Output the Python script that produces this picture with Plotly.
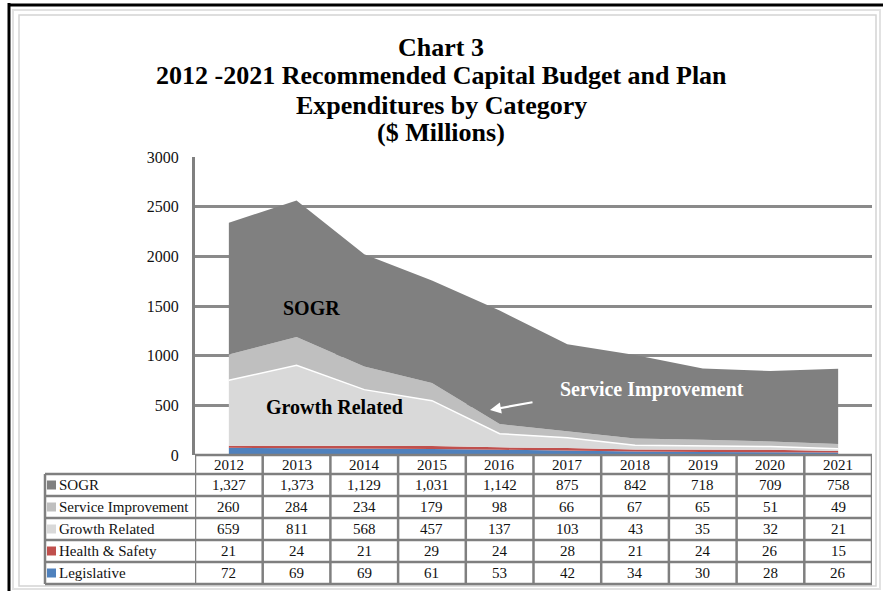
import plotly.graph_objects as go

# ---- data ($ millions) ----
years = [2012, 2013, 2014, 2015, 2016, 2017, 2018, 2019, 2020, 2021]
sogr = [1327, 1373, 1129, 1031, 1142, 875, 842, 718, 709, 758]
service_improvement = [260, 284, 234, 179, 98, 66, 67, 65, 51, 49]
growth_related = [659, 811, 568, 457, 137, 103, 43, 35, 32, 21]
health_safety = [21, 24, 21, 29, 24, 28, 21, 24, 26, 15]
legislative = [72, 69, 69, 61, 53, 42, 34, 30, 28, 26]

# table rows (top to bottom) and their colours
row_names = ["SOGR", "Service Improvement", "Growth Related", "Health & Safety", "Legislative"]
row_values = [sogr, service_improvement, growth_related, health_safety, legislative]
row_colors = ["#808080", "#BFBFBF", "#D9D9D9", "#C0504D", "#4F81BD"]

title_lines = [
    "Chart 3",
    "2012 -2021 Recommended Capital Budget and Plan",
    "Expenditures by Category",
    "($ Millions)",
]
y_ticks = [0, 500, 1000, 1500, 2000, 2500, 3000]

# ---- layout geometry (pixels) ----
W, H = 883, 591
PL, PR, PT, PB = 195, 872, 157, 455  # plot area edges
SERIF = "Liberation Serif, Times New Roman, serif"
GRID = "#8a8a8a"


def px(X):
    return (X - PL) / (PR - PL)


def py(Y):
    return (PB - Y) / (PB - PT)


fig = go.Figure()

# stacked areas, bottom to top
stack = list(zip(row_names, row_values, row_colors))[::-1]
for name, vals, col in stack:
    line = dict(width=0)
    if name == "Growth Related":
        line = dict(width=1.5, color="white")
    fig.add_trace(go.Scatter(
        x=years, y=vals, name=name, mode="lines", stackgroup="one",
        fillcolor=col, line=line, hoverinfo="x+y+name",
    ))

shapes = []
annotations = []

# page frame
shapes.append(dict(type="line", xref="paper", yref="paper", x0=px(9), x1=px(9), y0=py(3), y1=py(591),
                   line=dict(color="black", width=3)))
shapes.append(dict(type="line", xref="paper", yref="paper", x0=px(8), x1=px(883), y0=py(5), y1=py(5),
                   line=dict(color="black", width=3)))
shapes.append(dict(type="rect", xref="paper", yref="paper", x0=px(13), x1=px(880), y0=py(10), y1=py(589),
                   line=dict(color="#e2e2e2", width=2)))
shapes.append(dict(type="rect", xref="paper", yref="paper", x0=px(19), x1=px(876), y0=py(15), y1=py(586),
                   line=dict(color="#d4d4d4", width=1.5)))

# data table grid
TBL_L = 45
HDR_TOP = PB
row_tops = [474, 496, 518, 540, 562, 584]
tcol = dict(color="#7f7f7f", width=2.5)
shapes.append(dict(type="line", xref="paper", yref="paper", x0=px(PL), x1=px(PR), y0=py(HDR_TOP), y1=py(HDR_TOP), line=tcol))
for yy in row_tops:
    shapes.append(dict(type="line", xref="paper", yref="paper", x0=px(TBL_L), x1=px(PR), y0=py(yy), y1=py(yy), line=tcol))
shapes.append(dict(type="line", xref="paper", yref="paper", x0=px(TBL_L), x1=px(TBL_L), y0=py(row_tops[0]), y1=py(row_tops[-1]), line=tcol))
for i, yr in enumerate(years):
    for xv in ([yr - 0.5, yr + 0.5] if i == 0 else [yr + 0.5]):
        shapes.append(dict(type="line", xref="x", yref="paper", x0=xv, x1=xv, y0=py(HDR_TOP), y1=py(row_tops[-1]), line=tcol))

tfont = dict(family=SERIF, size=15, color="#111111")
# header years
for yr in years:
    annotations.append(dict(x=yr, xref="x", y=py((HDR_TOP + row_tops[0]) / 2), yref="paper",
                            text=str(yr), showarrow=False, font=tfont, xanchor="center", yanchor="middle"))
# rows
for r, (name, vals, col) in enumerate(zip(row_names, row_values, row_colors)):
    yc = (row_tops[r] + row_tops[r + 1]) / 2
    shapes.append(dict(type="rect", xref="paper", yref="paper", x0=px(47), x1=px(56), y0=py(yc - 4.5), y1=py(yc + 4.5),
                       fillcolor=col, line=dict(width=0)))
    annotations.append(dict(x=px(57), xref="paper", y=py(yc), yref="paper", text=name, showarrow=False,
                            font=tfont, xanchor="left", yanchor="middle"))
    for yr, v in zip(years, vals):
        annotations.append(dict(x=yr, xref="x", y=py(yc), yref="paper", text=f"{v:,}", showarrow=False,
                                font=tfont, xanchor="center", yanchor="middle"))

# title
for t, yc in zip(title_lines, [47, 76, 105, 132]):
    annotations.append(dict(x=px(441), xref="paper", y=py(yc), yref="paper", text=f"<b>{t}</b>", showarrow=False,
                            font=dict(family=SERIF, size=26, color="black"), xanchor="center", yanchor="middle"))

# in-chart labels
lbl = dict(family=SERIF, size=20, color="black")
annotations.append(dict(x=px(311), xref="paper", y=py(308), yref="paper", text="<b>SOGR</b>", showarrow=False,
                        font=lbl, xanchor="center", yanchor="middle"))
annotations.append(dict(x=px(334), xref="paper", y=py(407), yref="paper", text="<b>Growth Related</b>", showarrow=False,
                        font=lbl, xanchor="center", yanchor="middle"))
annotations.append(dict(x=px(652), xref="paper", y=py(389), yref="paper", text="<b>Service Improvement</b>",
                        showarrow=False, font=dict(family=SERIF, size=20, color="white"),
                        xanchor="center", yanchor="middle"))
annotations.append(dict(x=px(490), xref="paper", y=py(410), yref="paper", text="", showarrow=True,
                        ax=44, ay=-8, arrowhead=2, arrowsize=1, arrowwidth=2.2, arrowcolor="white"))

fig.update_layout(
    width=W, height=H,
    margin=dict(l=PL, r=W - PR, t=PT, b=H - PB, pad=0),
    paper_bgcolor="white", plot_bgcolor="white",
    showlegend=False,
    shapes=shapes, annotations=annotations,
    xaxis=dict(range=[2011.5, 2021.5], showticklabels=False, showgrid=False, zeroline=False,
               showline=False, ticks="", fixedrange=True),
    yaxis=dict(range=[0, 3000], tickvals=y_ticks, showgrid=True, gridcolor=GRID, gridwidth=2.5,
               zeroline=False, showline=True, linecolor="#808080", linewidth=3,
               ticks="", ticklabelstandoff=10, automargin=False,
               tickfont=dict(family=SERIF, size=16, color="#111111"), fixedrange=True),
)

fig.write_html("out.html")
